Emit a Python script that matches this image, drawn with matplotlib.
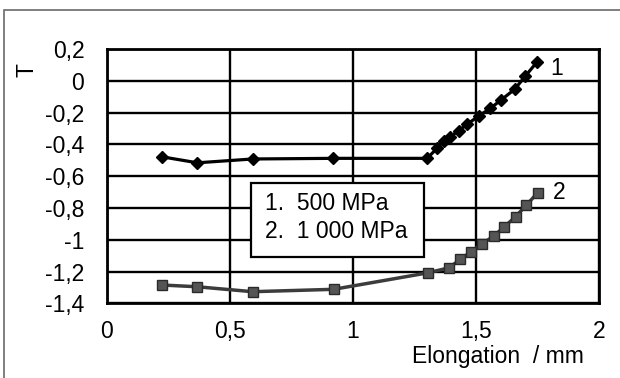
import numpy as np
from matplotlib import pyplot as plt
from matplotlib.patches import Rectangle

plt.rcParams['font.family'] = ['Liberation Sans', 'DejaVu Sans']

# curve 1: 500 MPa
x1 = [0.224, 0.369, 0.593, 0.920, 1.302, 1.342, 1.369, 1.396, 1.430, 1.464,
      1.511, 1.559, 1.602, 1.657, 1.701, 1.749]
t1 = [-0.478, -0.516, -0.492, -0.488, -0.488, -0.425, -0.379, -0.352, -0.314,
      -0.274, -0.222, -0.173, -0.121, -0.054, 0.030, 0.120]

# curve 2: 1 000 MPa
x2 = [0.227, 0.369, 0.593, 0.922, 1.306, 1.392, 1.437, 1.480, 1.525, 1.572,
      1.616, 1.661, 1.705, 1.751]
t2 = [-1.285, -1.296, -1.327, -1.312, -1.208, -1.176, -1.123, -1.076, -1.027,
      -0.977, -0.918, -0.855, -0.782, -0.704]

xticks = [0, 0.5, 1, 1.5, 2]
xticklabels = ['0', '0,5', '1', '1,5', '2']
yticks = [0.2, 0, -0.2, -0.4, -0.6, -0.8, -1, -1.2, -1.4]
yticklabels = ['0,2', '0', '-0,2', '-0,4', '-0,6', '-0,8', '-1', '-1,2', '-1,4']
legend_lines = ['1.  500 MPa', '2.  1 000 MPa']

fs = 16.5

fig = plt.figure(figsize=(6.2, 3.78), dpi=100)
# thin gray frame round the figure (only top and left visible)
fig.patches.append(Rectangle((4 / 620, -0.1), 1.2, 1 - 10 / 378 + 0.1,
                             transform=fig.transFigure, fill=False,
                             edgecolor='#6a6a6a', linewidth=1.2))

ax = fig.add_axes([0.1718, 0.1976, 0.7944, 0.6728])
ax.set_xlim(0, 2)
ax.set_ylim(-1.4, 0.2)
ax.set_xticks(xticks)
ax.set_xticklabels(xticklabels)
ax.set_yticks(yticks)
ax.set_yticklabels(yticklabels)
ax.tick_params(length=0, labelsize=fs, colors='black')
ax.tick_params(axis='y', pad=16)
ax.tick_params(axis='x', pad=12)
ax.grid(True, color='black', linewidth=1.7)
ax.set_axisbelow(True)
for sp in ax.spines.values():
    sp.set_linewidth(2)
    sp.set_color('black')

ax.plot(x1, t1, color='black', linewidth=2.3, marker='D', markersize=6,
        markerfacecolor='black', markeredgecolor='black', zorder=4)
ax.plot(x2, t2, color='#3c3c3c', linewidth=2.5, marker='s', markersize=6.5,
        markerfacecolor='#555555', markeredgecolor='#2a2a2a', zorder=4)

ax.text(1.827, 0.08, '1', fontsize=fs, ha='center', va='center')
ax.text(1.839, -0.70, '2', fontsize=fs, ha='center', va='center')

# legend box
ax.add_patch(Rectangle((0.587, -1.109), 0.704, 0.466, facecolor='white',
                       edgecolor='black', linewidth=1.6, zorder=5))
ax.text(0.644, -0.769, legend_lines[0], fontsize=fs, ha='left', va='center',
        zorder=6)
ax.text(0.644, -0.950, legend_lines[1], fontsize=fs, ha='left', va='center',
        zorder=6)

ax.text(-0.323, 0.068, 'T', fontsize=fs, rotation=90, ha='center',
        va='center', clip_on=False)
ax.text(1.591, -1.736, 'Elongation  / mm', fontsize=fs, ha='center',
        va='center', clip_on=False)

fig.savefig('out.png', dpi=100)
